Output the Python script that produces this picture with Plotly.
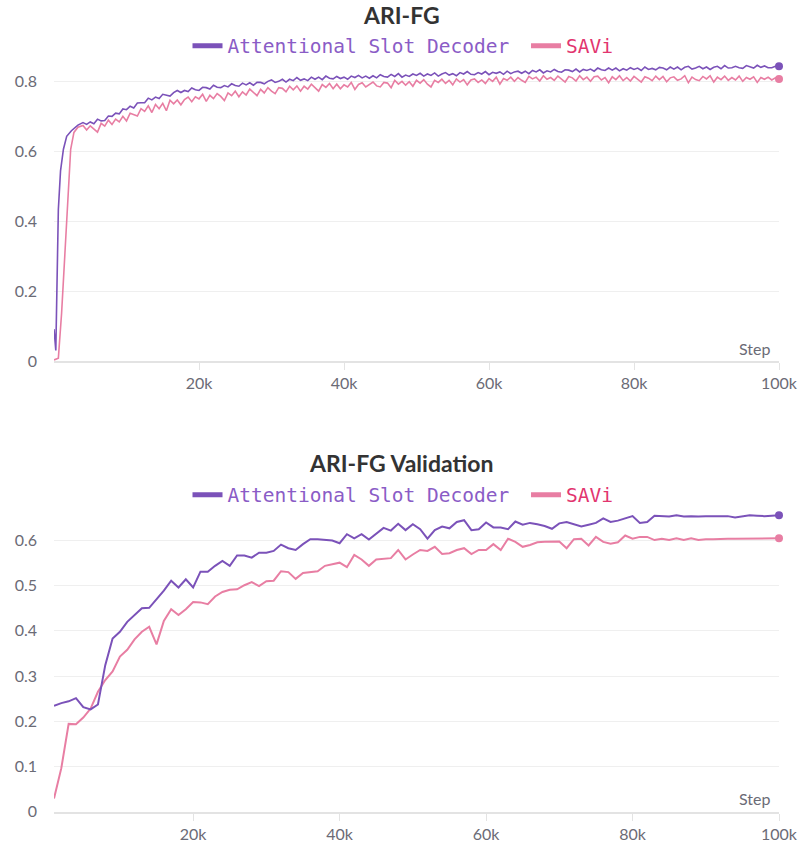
import plotly.graph_objects as go

# ---------------- data: ARI-FG (training) ----------------
train_steps_early_asd = [0, 250, 600, 900, 1300, 1750, 2400, 3300]
train_asd_early = [0.091, 0.030, 0.433, 0.543, 0.605, 0.642, 0.658, 0.674]
train_steps_early_savi = [0, 600, 1050, 1500, 2000, 2300, 2750, 3300]
train_savi_early = [0.003, 0.008, 0.137, 0.299, 0.510, 0.605, 0.653, 0.668]

train_steps_main = list(range(4000, 100001, 500))
train_asd_main = [
    0.681, 0.676, 0.683, 0.678, 0.691, 0.686, 0.687, 0.700, 0.699, 0.708,
    0.706, 0.720, 0.718, 0.728, 0.723, 0.737, 0.738, 0.738, 0.751, 0.746,
    0.754, 0.750, 0.762, 0.759, 0.757, 0.767, 0.773, 0.767, 0.773, 0.770,
    0.780, 0.775, 0.773, 0.782, 0.781, 0.777, 0.788, 0.782, 0.781, 0.787,
    0.783, 0.792, 0.787, 0.785, 0.794, 0.789, 0.795, 0.788, 0.796, 0.796,
    0.792, 0.799, 0.803, 0.796, 0.799, 0.805, 0.797, 0.805, 0.801, 0.810,
    0.802, 0.806, 0.801, 0.811, 0.805, 0.811, 0.804, 0.814, 0.808, 0.806,
    0.813, 0.807, 0.811, 0.805, 0.814, 0.810, 0.816, 0.809, 0.814, 0.808,
    0.815, 0.809, 0.818, 0.813, 0.811, 0.819, 0.813, 0.821, 0.811, 0.817,
    0.813, 0.820, 0.816, 0.822, 0.814, 0.820, 0.816, 0.823, 0.814, 0.820,
    0.824, 0.817, 0.821, 0.815, 0.824, 0.820, 0.827, 0.819, 0.818, 0.824,
    0.820, 0.827, 0.818, 0.825, 0.822, 0.826, 0.819, 0.828, 0.821, 0.826,
    0.828, 0.822, 0.828, 0.821, 0.830, 0.826, 0.832, 0.823, 0.829, 0.826,
    0.833, 0.827, 0.825, 0.832, 0.831, 0.827, 0.834, 0.826, 0.833, 0.830,
    0.834, 0.828, 0.837, 0.832, 0.830, 0.837, 0.831, 0.837, 0.829, 0.835,
    0.831, 0.838, 0.833, 0.837, 0.830, 0.840, 0.833, 0.836, 0.832, 0.839,
    0.837, 0.832, 0.840, 0.834, 0.840, 0.832, 0.839, 0.842, 0.834, 0.837,
    0.842, 0.835, 0.840, 0.833, 0.839, 0.842, 0.835, 0.844, 0.837, 0.838,
    0.842, 0.838, 0.836, 0.844, 0.841, 0.837, 0.845, 0.839, 0.843, 0.838,
    0.838, 0.842, 0.842,
]
train_savi_main = [
    0.673, 0.660, 0.672, 0.664, 0.654, 0.679, 0.671, 0.688, 0.676, 0.691,
    0.683, 0.699, 0.686, 0.708, 0.703, 0.700, 0.721, 0.713, 0.729, 0.710,
    0.733, 0.721, 0.736, 0.715, 0.745, 0.735, 0.746, 0.732, 0.747, 0.754,
    0.741, 0.755, 0.749, 0.762, 0.742, 0.759, 0.750, 0.764, 0.756, 0.744,
    0.766, 0.758, 0.771, 0.755, 0.769, 0.760, 0.777, 0.767, 0.758, 0.776,
    0.766, 0.781, 0.771, 0.764, 0.781, 0.779, 0.769, 0.785, 0.775, 0.786,
    0.771, 0.785, 0.777, 0.791, 0.781, 0.771, 0.790, 0.782, 0.793, 0.778,
    0.791, 0.778, 0.789, 0.783, 0.796, 0.776, 0.790, 0.795, 0.783, 0.789,
    0.797, 0.786, 0.783, 0.796, 0.794, 0.781, 0.802, 0.791, 0.799, 0.788,
    0.798, 0.785, 0.802, 0.794, 0.804, 0.791, 0.783, 0.802, 0.796, 0.805,
    0.793, 0.802, 0.789, 0.806, 0.797, 0.804, 0.789, 0.803, 0.806, 0.796,
    0.803, 0.793, 0.807, 0.799, 0.811, 0.791, 0.807, 0.802, 0.811, 0.799,
    0.810, 0.802, 0.796, 0.813, 0.806, 0.811, 0.800, 0.815, 0.805, 0.810,
    0.802, 0.814, 0.806, 0.797, 0.813, 0.809, 0.800, 0.815, 0.804, 0.811,
    0.799, 0.812, 0.814, 0.803, 0.810, 0.795, 0.812, 0.804, 0.815, 0.801,
    0.810, 0.800, 0.813, 0.805, 0.797, 0.812, 0.808, 0.801, 0.814, 0.804,
    0.813, 0.798, 0.809, 0.812, 0.802, 0.806, 0.815, 0.795, 0.811, 0.804,
    0.801, 0.813, 0.806, 0.815, 0.797, 0.811, 0.804, 0.814, 0.802, 0.810,
    0.803, 0.814, 0.799, 0.810, 0.805, 0.812, 0.796, 0.810, 0.805, 0.811,
    0.803, 0.809, 0.806,
]

# ---------------- data: ARI-FG Validation ----------------
val_steps = list(range(1000, 100001, 1000))
val_asd = [
    0.234, 0.240, 0.244, 0.251, 0.231, 0.226, 0.237, 0.324, 0.383, 0.398,
    0.420, 0.436, 0.450, 0.451, 0.470, 0.489, 0.511, 0.496, 0.514, 0.496,
    0.531, 0.531, 0.544, 0.555, 0.544, 0.567, 0.567, 0.562, 0.573, 0.573,
    0.577, 0.591, 0.583, 0.579, 0.592, 0.603, 0.603, 0.602, 0.600, 0.594,
    0.614, 0.605, 0.614, 0.602, 0.614, 0.628, 0.622, 0.637, 0.623, 0.636,
    0.625, 0.604, 0.623, 0.631, 0.627, 0.641, 0.645, 0.623, 0.625, 0.640,
    0.629, 0.629, 0.625, 0.642, 0.635, 0.639, 0.636, 0.632, 0.626, 0.638,
    0.641, 0.636, 0.631, 0.635, 0.639, 0.649, 0.641, 0.644, 0.649, 0.654,
    0.639, 0.641, 0.655, 0.654, 0.653, 0.656, 0.653, 0.654, 0.653, 0.654,
    0.654, 0.653, 0.654, 0.651, 0.654, 0.656, 0.655, 0.654, 0.655, 0.656,
]
val_savi = [
    0.029, 0.096, 0.194, 0.193, 0.208, 0.228, 0.265, 0.291, 0.310, 0.343,
    0.358, 0.381, 0.398, 0.409, 0.370, 0.422, 0.448, 0.435, 0.448, 0.464,
    0.463, 0.459, 0.476, 0.486, 0.491, 0.492, 0.501, 0.508, 0.499, 0.510,
    0.511, 0.532, 0.530, 0.515, 0.528, 0.530, 0.532, 0.544, 0.548, 0.551,
    0.541, 0.568, 0.558, 0.544, 0.558, 0.559, 0.561, 0.579, 0.558, 0.569,
    0.579, 0.577, 0.586, 0.570, 0.572, 0.579, 0.583, 0.570, 0.579, 0.579,
    0.592, 0.579, 0.604, 0.597, 0.586, 0.590, 0.596, 0.597, 0.597, 0.598,
    0.583, 0.603, 0.604, 0.589, 0.608, 0.597, 0.593, 0.596, 0.611, 0.604,
    0.608, 0.608, 0.601, 0.604, 0.601, 0.605, 0.601, 0.605, 0.601, 0.603,
    0.603, 0.604, 0.604, 0.604, 0.604, 0.605, 0.605, 0.604, 0.604, 0.605,
]

series_names = ["Attentional Slot Decoder", "SAVi"]
line_colors = ["#7b52b9", "#e87ea3"]
text_colors = ["#8a5cc6", "#e2356f"]
x_tickvals = [20000, 40000, 60000, 80000, 100000]
top_yticks = [0, 0.2, 0.4, 0.6, 0.8]
bot_yticks = [0, 0.1, 0.2, 0.3, 0.4, 0.5, 0.6]

W, H = 799, 850
L, R = 54, 20
TICK_FONT = dict(family="Lato, 'Noto Sans', sans-serif", size=16, color="#6b6b76")
MONO = "'DejaVu Sans Mono', monospace"


def py(px):
    return 1 - px / H


def pxx(px):
    return (px - L) / (W - L - R)


fig = go.Figure()

train_asd_x = train_steps_early_asd + train_steps_main
train_asd_y = train_asd_early + train_asd_main
train_savi_x = train_steps_early_savi + train_steps_main
train_savi_y = train_savi_early + train_savi_main

# top chart lines (SAVi drawn first so purple sits on top)
fig.add_trace(go.Scatter(x=train_savi_x, y=train_savi_y, mode="lines",
                         line=dict(color=line_colors[1], width=1.6),
                         xaxis="x", yaxis="y", showlegend=False))
fig.add_trace(go.Scatter(x=train_asd_x, y=train_asd_y, mode="lines",
                         line=dict(color=line_colors[0], width=1.6),
                         xaxis="x", yaxis="y", showlegend=False))
fig.add_trace(go.Scatter(x=[train_savi_x[-1]], y=[train_savi_y[-1]], mode="markers",
                         marker=dict(color=line_colors[1], size=8),
                         xaxis="x", yaxis="y", showlegend=False, cliponaxis=False))
fig.add_trace(go.Scatter(x=[train_asd_x[-1]], y=[train_asd_y[-1]], mode="markers",
                         marker=dict(color=line_colors[0], size=8),
                         xaxis="x", yaxis="y", showlegend=False, cliponaxis=False))

# bottom chart lines
fig.add_trace(go.Scatter(x=val_steps, y=val_savi, mode="lines",
                         line=dict(color=line_colors[1], width=2),
                         xaxis="x2", yaxis="y2", showlegend=False))
fig.add_trace(go.Scatter(x=val_steps, y=val_asd, mode="lines",
                         line=dict(color=line_colors[0], width=2),
                         xaxis="x2", yaxis="y2", showlegend=False))
fig.add_trace(go.Scatter(x=[val_steps[-1]], y=[val_savi[-1]], mode="markers",
                         marker=dict(color=line_colors[1], size=8),
                         xaxis="x2", yaxis="y2", showlegend=False, cliponaxis=False))
fig.add_trace(go.Scatter(x=[val_steps[-1]], y=[val_asd[-1]], mode="markers",
                         marker=dict(color=line_colors[0], size=8),
                         xaxis="x2", yaxis="y2", showlegend=False, cliponaxis=False))

# legend entries
for lg, xa, ya in (("legend", "x", "y"), ("legend2", "x2", "y2")):
    for i in range(2):
        pad = "&nbsp;" if i == 0 else ""
        fig.add_trace(go.Scatter(
            x=[None], y=[None], mode="lines",
            line=dict(color=line_colors[i], width=5),
            name=f"<span style='color:{text_colors[i]}'>{series_names[i]}</span>{pad}",
            xaxis=xa, yaxis=ya, legend=lg, showlegend=True))

axis_common = dict(showgrid=False, zeroline=False, showline=True,
                   linecolor="#e3e3e3", linewidth=2, ticks="outside",
                   ticklen=7, tickcolor="#e3e3e3", tickwidth=1,
                   tickvals=x_tickvals, tickfont=TICK_FONT, automargin=False)
yaxis_common = dict(showgrid=True, gridcolor="#efefef", gridwidth=1,
                    zeroline=False, showline=False, ticks="",
                    tickfont=TICK_FONT, ticklabelstandoff=16, automargin=False)

legend_common = dict(orientation="h", xref="paper", yref="paper",
                     xanchor="center", yanchor="middle",
                     font=dict(family=MONO, size=19.5), bgcolor="rgba(0,0,0,0)",
                     itemwidth=30, tracegroupgap=0)

fig.update_layout(
    width=W, height=H, autosize=False,
    margin=dict(l=L, r=R, t=0, b=0, autoexpand=False),
    paper_bgcolor="white", plot_bgcolor="white",
    xaxis=dict(domain=[0, 1], range=[0, 100000], anchor="y", **axis_common),
    yaxis=dict(domain=[py(361), py(56.5)], range=[0, 0.87], anchor="x",
               tickvals=top_yticks, **yaxis_common),
    xaxis2=dict(domain=[0, 1], range=[1000, 100000], anchor="y2", **axis_common),
    yaxis2=dict(domain=[py(811.5), py(508.9)], range=[0, 0.67], anchor="x2",
                tickvals=bot_yticks, **yaxis_common),
    legend=dict(x=pxx(403), y=py(46), **legend_common),
    legend2=dict(x=pxx(403), y=py(495), **legend_common),
    annotations=[
        dict(text="<b>ARI-FG</b>", xref="paper", yref="paper",
             x=pxx(401), y=py(15), xanchor="center", yanchor="middle",
             showarrow=False, font=dict(family="Lato, sans-serif", size=23, color="#333333")),
        dict(text="<b>ARI-FG Validation</b>", xref="paper", yref="paper",
             x=pxx(401), y=py(463), xanchor="center", yanchor="middle",
             showarrow=False, font=dict(family="Lato, sans-serif", size=23, color="#333333")),
        dict(text="Step", xref="paper", yref="paper",
             x=pxx(772), y=py(348), xanchor="right", yanchor="middle",
             showarrow=False, font=TICK_FONT),
        dict(text="Step", xref="paper", yref="paper",
             x=pxx(772), y=py(798), xanchor="right", yanchor="middle",
             showarrow=False, font=TICK_FONT),
    ],
)

fig.write_html("out.html")
